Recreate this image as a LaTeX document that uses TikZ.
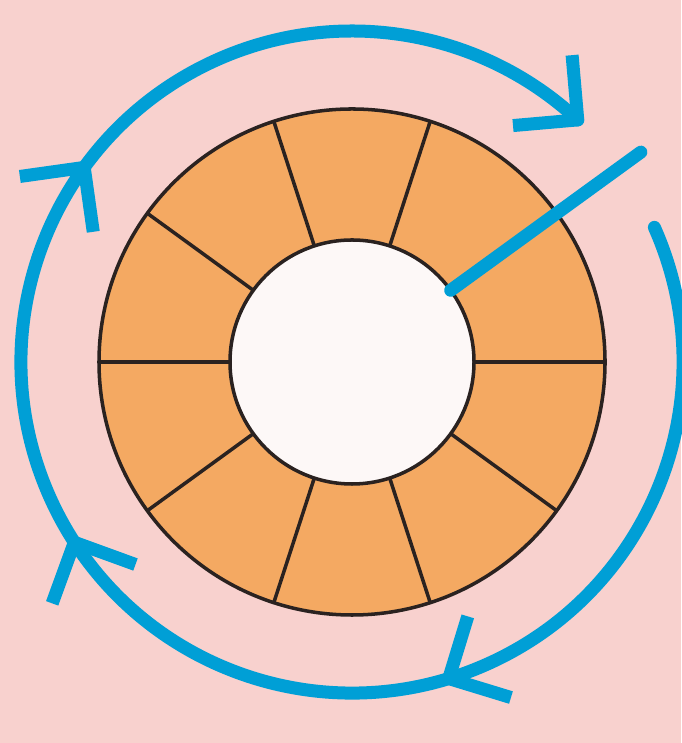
\documentclass[tikz,border=0pt]{standalone}
\usepackage{tikz}
\definecolor{bgpink}{HTML}{F8D1CE}
\definecolor{ringorange}{HTML}{F4A962}
\definecolor{cycleblue}{HTML}{009FD6}
\definecolor{hubwhite}{HTML}{FDF8F7}
\definecolor{edgedark}{HTML}{2A2220}
\tikzset{
  ring/.style={fill=ringorange, draw=edgedark, line width=1pt},
  spoke/.style={draw=edgedark, line width=1pt},
  hub/.style={fill=hubwhite, draw=edgedark, line width=1pt},
  cycle/.style={draw=cycleblue, line width=3.7pt, line cap=round},
  chevron/.style={draw=cycleblue, line width=3.7pt, line cap=butt, line join=round},
}

\begin{document}
\begin{tikzpicture}
    \coordinate (c) at (0,0);
    \fill[bgpink] (-3.52,-3.81) rectangle (3.29,3.62);
    \useasboundingbox (-3.52,-3.81) rectangle (3.29,3.62);
    \draw[ring] (c) circle (2.53);
    \foreach \a in {0,36,...,324}
      \draw[spoke] (\a:1.22) -- (\a:2.53);
    \draw[hub] (c) circle (1.22);
    \draw[cycle] (36:1.22) -- (36:3.57);
    \draw[cycle] (24:3.31) arc[start angle=24, end angle=-313, radius=3.31];
    % arrow heads: angle on the circle / tilt of the arms
    \foreach \t/\r in {144/-1,213/-8,287/11,47/3}
      \draw[chevron] (\t:3.31) ++(\t+\r+45:0.65) -- (\t:3.31) -- ++(\t+\r+135:0.65);
  \end{tikzpicture}
\end{document}
